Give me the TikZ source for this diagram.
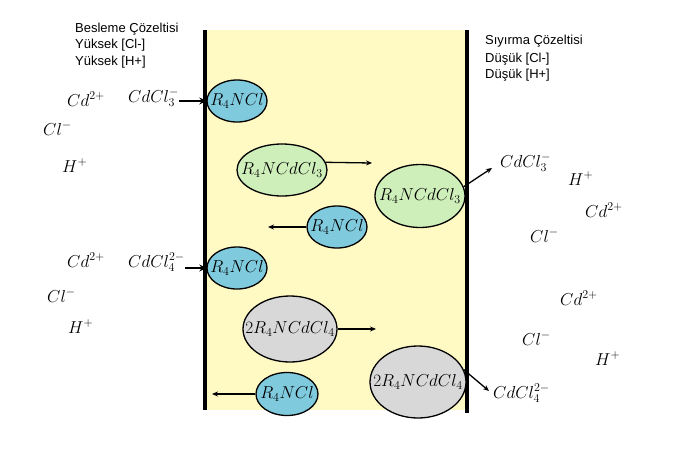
\documentclass[tikz,border=0pt]{standalone}
\usepackage{fontspec}
\newfontfamily\arialfont{Liberation Sans}
\usetikzlibrary{shapes.geometric,arrows.meta}
\definecolor{membrane}{RGB}{255,249,196}
\definecolor{ionblue}{RGB}{128,202,222}
\definecolor{cmpgreen}{RGB}{206,238,186}
\definecolor{cmpgray}{RGB}{216,216,216}
\begin{document}
\begin{tikzpicture}[x=1pt,y=-1pt,
  oval/.style={ellipse,draw,line width=1.3pt,inner sep=0pt},
  every label/.style={font=\fontsize{17.28}{20}\selectfont,inner sep=0pt},
  ion/.style={anchor=base west,inner sep=0pt,font=\fontsize{17.28}{20}\selectfont},
  note/.style={anchor=base west,inner sep=0pt,font=\arialfont\fontsize{13}{15}\selectfont},
  feed/.style={-{Stealth[length=7pt,width=7pt]},line width=2.4pt},
  move/.style={-{Stealth[length=6pt,width=5pt]},line width=1.3pt}]
\useasboundingbox (0,0) rectangle (681,453);

\fill[membrane] (205,30) rectangle (467,410);
\draw[line width=4pt] (205,30) -- (205,410);
\draw[line width=4pt] (467,30) -- (467,413);

\node[note] (feedA) at (75,32) {Besleme Çözeltisi};
\node[note] (feedB) at (75,48.5) {Yüksek [Cl-]};
\node[note] (feedC) at (75,65.5) {Yüksek [H+]};
\node[note] (stripA) at (485,44.5) {Sıyırma Çözeltisi};
\node[note] (stripB) at (485,62) {Düşük [Cl-]};
\node[note] (stripC) at (485,78.5) {Düşük [H+]};

\node[ion] (cdA) at (67,106) {$Cd^{2+}$};
\node[ion] (cdclA) at (128,102) {$CdCl_3^-$};
\node[ion] (clA) at (43,135) {$Cl^-$};
\node[ion] (hA) at (62,172) {$H^+$};
\node[ion] (cdB) at (67,267) {$Cd^{2+}$};
\node[ion] (cdclB) at (128,267) {$CdCl_4^{2-}$};
\node[ion] (clB) at (47,302) {$Cl^-$};
\node[ion] (hB) at (68,333) {$H^+$};

\node[ion] (cdclC) at (500,167) {$CdCl_3^-$};
\node[ion] (hC) at (568,185) {$H^+$};
\node[ion] (cdC) at (585,217) {$Cd^{2+}$};
\node[ion] (clC) at (530,242) {$Cl^-$};
\node[ion] (cdD) at (560,305) {$Cd^{2+}$};
\node[ion] (clD) at (522,345) {$Cl^-$};
\node[ion] (hD) at (595,365) {$H^+$};
\node[ion] (cdclD) at (493,398) {$CdCl_4^{2-}$};

\node[oval,fill=ionblue,minimum width=60pt,minimum height=42pt,label=center:{$R_4NCl$}] (rclA) at (237,101) {};
\node[oval,fill=cmpgreen,minimum width=90pt,minimum height=52pt,label=center:{$R_4NCdCl_3$}] (cmpA) at (282,170) {};
\node[oval,fill=cmpgreen,minimum width=90pt,minimum height=63pt,label=center:{$R_4NCdCl_3$}] (cmpB) at (420,196) {};
\node[oval,fill=ionblue,minimum width=60pt,minimum height=42pt,label=center:{$R_4NCl$}] (rclB) at (337,227) {};
\node[oval,fill=ionblue,minimum width=60pt,minimum height=42pt,label=center:{$R_4NCl$}] (rclC) at (237,268) {};
\node[oval,fill=cmpgray,minimum width=94pt,minimum height=66pt,label=center:{$2R_4NCdCl_4$}] (cmpC) at (290,329) {};
\node[oval,fill=cmpgray,minimum width=96pt,minimum height=72pt,label=center:{$2R_4NCdCl_4$}] (cmpD) at (418,382) {};
\node[oval,fill=ionblue,minimum width=62pt,minimum height=43pt,label=center:{$R_4NCl$}] (rclD) at (287,394) {};

\coordinate (outA) at (372,163);
\coordinate (outB) at (492,168);
\coordinate (outC) at (268,227);
\coordinate (outD) at (376,329);
\coordinate (outE) at (489,391);
\coordinate (outF) at (212,394);

\draw[feed] (cdclA.east |- rclA) -- (rclA.west);
\draw[feed] (cdclB.east |- rclC) -- (rclC.west);
\draw[move] (cmpA.10) -- (outA);
\draw[move] (cmpB.12) -- (outB);
\draw[move] (rclB.west) -- (outC);
\draw[move] (cmpC.east) -- (outD);
\draw[move] (cmpD.15) -- (outE);
\draw[move] (rclD.west) -- (outF);
\end{tikzpicture}
\end{document}
